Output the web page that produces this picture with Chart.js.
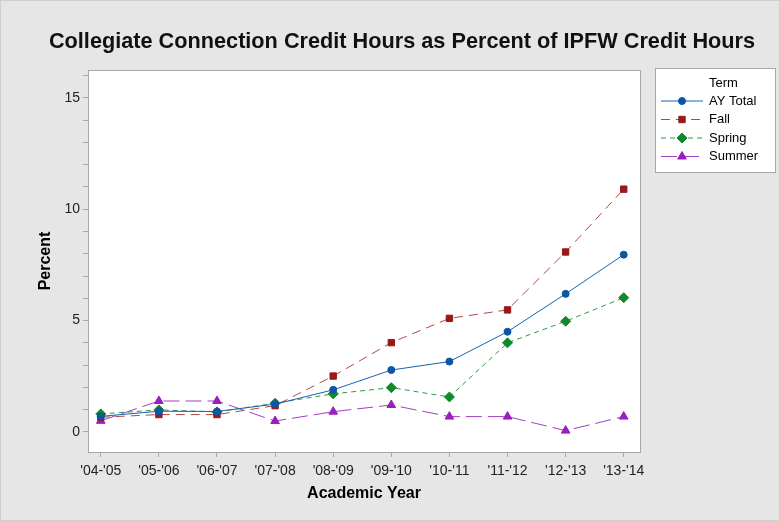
<!DOCTYPE html>
<html>
<head>
<meta charset="utf-8">
<script src="https://cdn.jsdelivr.net/npm/chart.js@4/dist/chart.umd.min.js"></script>
<style>
  html, body { margin: 0; padding: 0; background: #e6e6e6; }
  #wrap { width: 780px; height: 521px; position: relative; }
</style>
</head>
<body>
<div id="wrap"><canvas id="chart1"></canvas></div>
<script>
const chartTitle = 'Collegiate Connection Credit Hours as Percent of IPFW Credit Hours';
const years = ["'04-'05", "'05-'06", "'06-'07", "'07-'08", "'08-'09", "'09-'10", "'10-'11", "'11-'12", "'12-'13", "'13-'14"];
const ayTotal = [0.7, 0.93, 0.92, 1.25, 1.89, 2.78, 3.16, 4.5, 6.2, 7.96];
const fall = [0.66, 0.78, 0.78, 1.18, 2.51, 4.01, 5.1, 5.48, 8.08, 10.9];
const spring = [0.81, 0.99, 0.9, 1.29, 1.71, 1.99, 1.57, 4.0, 4.97, 6.03];
const summer = [0.5, 1.39, 1.39, 0.49, 0.91, 1.21, 0.69, 0.69, 0.06, 0.69];
const yLabels = [0, 5, 10, 15];

const toXY = (arr) => arr.map((v, i) => ({ x: i, y: v }));
const FONT = '"Liberation Sans", Arial, sans-serif';

// gray page, white plot area, frame and title
const framePlugin = {
    id: 'frame',
    beforeDraw(chart) {
        const { ctx, chartArea: a, width, height } = chart;
        ctx.save();
        ctx.fillStyle = '#e6e6e6';
        ctx.fillRect(0, 0, width, height);
        ctx.strokeStyle = '#cfcfcf';
        ctx.strokeRect(0.5, 0.5, width - 1, height - 1);
        ctx.fillStyle = '#ffffff';
        ctx.fillRect(a.left, a.top, a.right - a.left, a.bottom - a.top);
        // title, fitted to the width it has in the original
        ctx.font = 'bold 20px ' + FONT;
        const w = ctx.measureText(chartTitle).width;
        const size = Math.min(22, 20 * 708 / w);
        ctx.font = 'bold ' + size.toFixed(1) + 'px ' + FONT;
        ctx.fillStyle = '#111';
        ctx.textAlign = 'center';
        ctx.textBaseline = 'middle';
        ctx.fillText(chartTitle, 402, 42);
        ctx.restore();
    },
    afterDraw(chart) {
        const { ctx, chartArea: a } = chart;
        ctx.save();
        ctx.strokeStyle = '#a8a8a8';
        ctx.lineWidth = 1;
        ctx.strokeRect(Math.round(a.left) + 0.5, Math.round(a.top) + 0.5, Math.round(a.right - a.left), Math.round(a.bottom - a.top));
        ctx.restore();
    }
};

// legend box with "Term" header, line + marker samples
const termLegend = {
    id: 'termLegend',
    afterDraw(chart) {
        const ctx = chart.ctx;
        const x0 = 655, y0 = 68, w = 120, h = 104;
        ctx.save();
        ctx.fillStyle = '#ffffff';
        ctx.fillRect(x0, y0, w, h);
        ctx.strokeStyle = '#a8a8a8';
        ctx.strokeRect(x0 + 0.5, y0 + 0.5, w, h);
        ctx.fillStyle = '#000';
        ctx.font = '13px ' + FONT;
        ctx.textBaseline = 'middle';
        ctx.fillText('Term', 709, 83);
        chart.data.datasets.forEach((ds, i) => {
            const y = 101 + i * 18.5;
            ctx.strokeStyle = ds.borderColor;
            ctx.lineWidth = 1;
            ctx.setLineDash(ds.borderDash || []);
            ctx.beginPath();
            ctx.moveTo(661, y);
            ctx.lineTo(703, y);
            ctx.stroke();
            ctx.setLineDash([]);
            ctx.fillStyle = ds.pointBackgroundColor;
            ctx.strokeStyle = ds.pointBackgroundColor;
            Chart.helpers.drawPoint(ctx, {
                pointStyle: ds.pointStyle,
                radius: ds.pointRadius,
                rotation: 0,
                borderWidth: 1
            }, 682, y);
            ctx.fillStyle = '#000';
            ctx.fillText(ds.label, 709, y);
        });
        ctx.restore();
    }
};

const ctx = document.getElementById('chart1').getContext('2d');
new Chart(ctx, {
    type: 'line',
    data: {
        datasets: [{
            label: 'AY Total',
            data: toXY(ayTotal),
            borderColor: '#1a62b3',
            pointBackgroundColor: '#0c56a8',
            pointBorderColor: '#0c56a8',
            pointStyle: 'circle',
            pointRadius: 3.5,
            borderWidth: 1
        }, {
            label: 'Fall',
            data: toXY(fall),
            borderColor: '#b04848',
            borderDash: [9, 6],
            pointBackgroundColor: '#991818',
            pointBorderColor: '#991818',
            pointStyle: 'rect',
            pointRadius: 4.5,
            borderWidth: 1
        }, {
            label: 'Spring',
            data: toXY(spring),
            borderColor: '#2f9a45',
            borderDash: [5, 4],
            pointBackgroundColor: '#0f8a2b',
            pointBorderColor: '#0f8a2b',
            pointStyle: 'rectRot',
            pointRadius: 5,
            borderWidth: 1
        }, {
            label: 'Summer',
            data: toXY(summer),
            borderColor: '#a23ec6',
            borderDash: [16, 6],
            pointBackgroundColor: '#9a1fc0',
            pointBorderColor: '#9a1fc0',
            pointStyle: 'triangle',
            pointRadius: 5,
            borderWidth: 1
        }]
    },
    options: {
        responsive: true,
        maintainAspectRatio: false,
        animation: false,
        layout: { padding: { left: 0, right: 140, top: 70, bottom: 0 } },
        plugins: {
            legend: { display: false },
            tooltip: { enabled: false },
            title: { display: false }
        },
        scales: {
            x: {
                type: 'linear',
                min: -0.22,
                max: 9.28,
                afterFit(scale) { scale.height = 69; },
                border: { display: false },
                grid: { drawOnChartArea: false, tickLength: 5, color: '#a8a8a8' },
                ticks: {
                    stepSize: 1,
                    includeBounds: false,
                    autoSkip: false,
                    maxRotation: 0,
                    padding: 6,
                    color: '#222',
                    font: { family: FONT, size: 14 },
                    callback: (v) => years[v] !== undefined ? years[v] : ''
                },
                title: {
                    display: true,
                    text: 'Academic Year',
                    color: '#000',
                    font: { family: FONT, size: 16, weight: 'bold' },
                    padding: { top: 0, bottom: 18 }
                }
            },
            y: {
                min: -0.9,
                max: 16.25,
                afterFit(scale) { scale.width = 88; },
                border: { display: false },
                grid: { drawOnChartArea: false, tickLength: 5, color: '#a8a8a8' },
                ticks: {
                    stepSize: 1,
                    includeBounds: false,
                    autoSkip: false,
                    padding: 3,
                    color: '#222',
                    font: { family: FONT, size: 14 },
                    callback: (v) => yLabels.includes(v) ? String(v) : ''
                },
                title: {
                    display: true,
                    text: 'Percent',
                    color: '#000',
                    font: { family: FONT, size: 16, weight: 'bold' },
                    padding: { top: 36, bottom: 0 }
                }
            }
        }
    },
    plugins: [framePlugin, termLegend]
});
</script>
</body>
</html>
